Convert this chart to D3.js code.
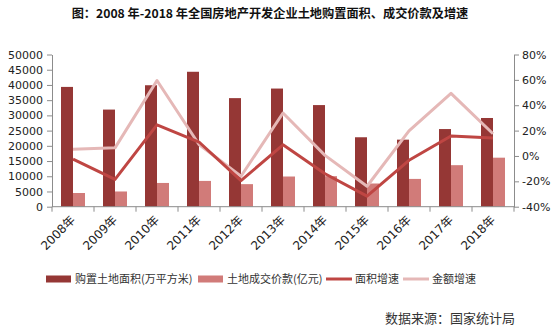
<!DOCTYPE html>
<html>
<head>
<meta charset="utf-8">
<script src="https://cdn.jsdelivr.net/npm/d3@7/dist/d3.min.js"></script>
<style>
  html, body { margin: 0; padding: 0; background: #fff; }
  svg { display: block; }
</style>
</head>
<body>
<svg id="chart" width="559" height="329"></svg>
<script>
// Land purchased by real-estate developers, 2008–2018
const years = ["2008年","2009年","2010年","2011年","2012年","2013年","2014年","2015年","2016年","2017年","2018年"];
const landArea = [39353, 31906, 39900, 44327, 35667, 38814, 33383, 22811, 22025, 25508, 29142];   // 万平方米
const landPrice = [4500, 5000, 7800, 8470, 7410, 9918, 10020, 7622, 9129, 13643, 16102];            // 亿元
const areaGrowth = [-2.5, -18.5, 24.5, 11, -19.5, 8.8, -14, -31.7, -3.4, 15.8, 14.2];                 // %
const priceGrowth = [5.3, 6.4, 59.5, 9, -16, 33.9, 0.5, -23.9, 19.8, 49.4, 17.5];                      // %
const leftTicks = [0, 5000, 10000, 15000, 20000, 25000, 30000, 35000, 40000, 45000, 50000];
const rightTicks = [-40, -20, 0, 20, 40, 60, 80];
const seriesNames = ["购置土地面积(万平方米)", "土地成交价款(亿元)", "面积增速", "金额增速"];

const colors = { area: "#953735", price: "#d17b79", areaLine: "#bf4643", priceLine: "#e5b8b7" };
const axisColor = "#8c8c8c";
const textColor = "#222";
const font = "'DejaVu Sans', Verdana, sans-serif";
const cjkFont = "'Noto Sans CJK SC', 'Noto Sans', sans-serif";
const mixedFont = "'DejaVu Sans', 'Noto Sans CJK SC', sans-serif";

const svg = d3.select("#chart");
const plot = { left: 52, right: 514, top: 54.5, bottom: 206.7 };

const x = d3.scaleBand().domain(years).range([plot.left, plot.right]).paddingInner(0).paddingOuter(0);
const x1 = d3.scaleBand().domain(["area", "price"]).range([9, 33]);
const yL = d3.scaleLinear().domain([0, 50000]).range([plot.bottom, plot.top]);
const yR = d3.scaleLinear().domain([-40, 80]).range([plot.bottom, plot.top]);

// Title
svg.append("text")
  .attr("x", 270).attr("y", 18)
  .attr("text-anchor", "middle")
  .attr("font-family", cjkFont)
  .attr("font-weight", "bold")
  .attr("font-size", 12.2)
  .attr("fill", "#111")
  .text("图：2008 年-2018 年全国房地产开发企业土地购置面积、成交价款及增速");

// Bars
const groups = svg.append("g").selectAll("g")
  .data(years)
  .join("g")
  .attr("transform", d => `translate(${x(d)},0)`);

groups.append("rect")
  .attr("x", x1("area"))
  .attr("width", x1.bandwidth())
  .attr("y", (d, i) => yL(landArea[i]))
  .attr("height", (d, i) => yL(0) - yL(landArea[i]))
  .attr("fill", colors.area);

groups.append("rect")
  .attr("x", x1("price"))
  .attr("width", x1.bandwidth())
  .attr("y", (d, i) => yL(landPrice[i]))
  .attr("height", (d, i) => yL(0) - yL(landPrice[i]))
  .attr("fill", colors.price);

// Growth lines on the right axis
const cx = d => x(d) + x.bandwidth() / 2;
const line = vals => d3.line()
  .x((d, i) => cx(years[i]))
  .y(d => yR(d))(vals);

svg.append("path")
  .attr("d", line(priceGrowth))
  .attr("fill", "none")
  .attr("stroke", colors.priceLine)
  .attr("stroke-width", 3)
  .attr("stroke-linejoin", "round");

svg.append("path")
  .attr("d", line(areaGrowth))
  .attr("fill", "none")
  .attr("stroke", colors.areaLine)
  .attr("stroke-width", 3)
  .attr("stroke-linejoin", "round");

// Axes
function styleAxis(g) {
  g.select(".domain").attr("stroke", axisColor);
  g.selectAll(".tick line").attr("stroke", axisColor);
  g.selectAll(".tick text").attr("fill", textColor).attr("font-family", font).attr("font-size", 11);
}

const leftAxis = svg.append("g")
  .attr("transform", `translate(${plot.left},0)`)
  .call(d3.axisLeft(yL).tickValues(leftTicks).tickSize(5).tickSizeOuter(0).tickPadding(4).tickFormat(d3.format("d")));
styleAxis(leftAxis);

const rightAxis = svg.append("g")
  .attr("transform", `translate(${plot.right},0)`)
  .call(d3.axisRight(yR).tickValues(rightTicks).tickSize(5).tickSizeOuter(0).tickPadding(3).tickFormat(d => d + "%"));
styleAxis(rightAxis);

// Category axis: ticks sit on band boundaries
const bottom = svg.append("g").attr("transform", `translate(0,${plot.bottom})`);
bottom.append("line")
  .attr("x1", plot.left).attr("x2", plot.right)
  .attr("stroke", axisColor);
const bounds = years.map(d => x(d)).concat([x(years[years.length - 1]) + x.bandwidth()]);
bottom.selectAll(".bt")
  .data(bounds)
  .join("line")
  .attr("x1", d => d).attr("x2", d => d)
  .attr("y1", 0).attr("y2", 5)
  .attr("stroke", axisColor);
bottom.selectAll(".lbl")
  .data(years)
  .join("text")
  .attr("transform", d => `translate(${cx(d) + 3},${14}) rotate(-45)`)
  .attr("text-anchor", "end")
  .attr("font-family", mixedFont)
  .attr("font-size", 12)
  .attr("fill", textColor)
  .text(d => d);

// Legend
const legendY = 279;
const legendItems = [
  { name: seriesNames[0], type: "rect", color: colors.area, x: 46 },
  { name: seriesNames[1], type: "rect", color: colors.price, x: 198 },
  { name: seriesNames[2], type: "line", color: colors.areaLine, x: 326 },
  { name: seriesNames[3], type: "line", color: colors.priceLine, x: 403 }
];
const legend = svg.append("g");
legendItems.forEach(item => {
  if (item.type === "rect") {
    legend.append("rect")
      .attr("x", item.x).attr("y", legendY - 3.5)
      .attr("width", 25).attr("height", 7)
      .attr("fill", item.color);
  } else {
    legend.append("line")
      .attr("x1", item.x).attr("x2", item.x + 26)
      .attr("y1", legendY).attr("y2", legendY)
      .attr("stroke", item.color).attr("stroke-width", 3);
  }
  legend.append("text")
    .attr("x", item.x + 29).attr("y", legendY)
    .attr("dy", "0.36em")
    .attr("font-family", cjkFont)
    .attr("font-size", 11)
    .attr("fill", "#333")
    .text(item.name);
});

// Source note
svg.append("text")
  .attr("x", 515).attr("y", 318)
  .attr("dy", "0.36em")
  .attr("text-anchor", "end")
  .attr("font-family", cjkFont)
  .attr("font-size", 13)
  .attr("fill", "#333")
  .text("数据来源：国家统计局");
</script>
</body>
</html>
